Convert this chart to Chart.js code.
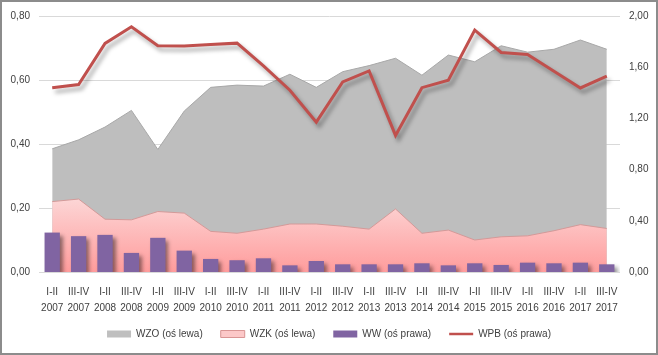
<!DOCTYPE html>
<html>
<head>
<meta charset="utf-8">
<script src="https://cdn.jsdelivr.net/npm/chart.js@4/dist/chart.umd.min.js"></script>
<style>
  html, body { margin: 0; padding: 0; background: #fff; }
  #wrap { position: relative; width: 658px; height: 355px; }
  #frame { position: absolute; left: 0; top: 0; width: 658px; height: 355px; box-sizing: border-box; border: 2px solid #8c8c8c; pointer-events: none; }
</style>
</head>
<body>
<div id="wrap">
  <canvas id="c" width="658" height="355"></canvas>
  <div id="frame"></div>
</div>
<script>
const periods = ['I-II','III-IV','I-II','III-IV','I-II','III-IV','I-II','III-IV','I-II','III-IV','I-II','III-IV','I-II','III-IV','I-II','III-IV','I-II','III-IV','I-II','III-IV','I-II','III-IV'];
const years = ['2007','2007','2008','2008','2009','2009','2010','2010','2011','2011','2012','2012','2013','2013','2014','2014','2015','2015','2016','2016','2017','2017'];
const seriesNames = ['WZO (oś lewa)','WZK (oś lewa)','WW (oś prawa)','WPB (oś prawa)'];
const wzo = [0.385,0.413,0.453,0.505,0.383,0.503,0.577,0.584,0.581,0.618,0.577,0.626,0.645,0.668,0.615,0.678,0.657,0.707,0.687,0.696,0.725,0.696];
const wzk = [0.220,0.228,0.165,0.163,0.189,0.184,0.127,0.121,0.134,0.150,0.150,0.143,0.134,0.197,0.121,0.131,0.100,0.110,0.113,0.129,0.148,0.136];
const ww  = [0.308,0.280,0.290,0.149,0.267,0.167,0.102,0.092,0.107,0.052,0.086,0.060,0.060,0.060,0.068,0.052,0.068,0.055,0.073,0.068,0.073,0.060];
const wpb = [1.440,1.464,1.786,1.916,1.767,1.765,1.778,1.788,1.610,1.420,1.171,1.485,1.571,1.067,1.440,1.498,1.890,1.715,1.700,1.569,1.438,1.530];
const leftTicks = [0, 0.8, 0.2];
const rightTicks = [0, 2.0, 0.4];

const labels = periods.map((p, i) => [p, years[i]]);
const fmt = v => Number(v).toFixed(2).replace('.', ',');
const FONT = { family: 'Liberation Sans', size: 10 };
const TXT = '#404040';

const shadowPlugin = {
  id: 'shadows',
  beforeDatasetDraw(chart, args) {
    const ds = chart.data.datasets[args.index];
    if (ds.shadow) {
      const ctx = chart.ctx;
      ctx.save();
      ctx.shadowColor = ds.shadow.color;
      ctx.shadowBlur = ds.shadow.blur;
      ctx.shadowOffsetX = ds.shadow.x;
      ctx.shadowOffsetY = ds.shadow.y;
    }
  },
  afterDatasetDraw(chart, args) {
    const ds = chart.data.datasets[args.index];
    if (ds.shadow) chart.ctx.restore();
  }
};

function pinkGradient(context) {
  const chart = context.chart;
  const area = chart.chartArea;
  if (!area) return '#ffbcbc';
  const y = chart.scales.y;
  const g = chart.ctx.createLinearGradient(0, y.getPixelForValue(0.23), 0, area.bottom);
  g.addColorStop(0, '#fcd6d6');
  g.addColorStop(1, '#ff9c9c');
  return g;
}

const legendFill = ['#bfbfbf', '#fcc8c8', '#8064a2', '#c0504d'];
const legendStroke = ['#bfbfbf', '#d99594', '#8064a2', '#c0504d'];

new Chart(document.getElementById('c'), {
  data: {
    labels: labels,
    datasets: [
      { type: 'line', label: seriesNames[0], data: wzo, yAxisID: 'y', order: 4,
        fill: 'origin', backgroundColor: '#bebebe', borderColor: '#a8a8a8', borderWidth: 1,
        pointRadius: 0, tension: 0 },
      { type: 'line', label: seriesNames[1], data: wzk, yAxisID: 'y', order: 3,
        fill: 'origin', backgroundColor: pinkGradient, borderColor: '#d39a99', borderWidth: 1,
        pointRadius: 0, tension: 0 },
      { type: 'bar', label: seriesNames[2], data: ww, yAxisID: 'y2', order: 2,
        backgroundColor: '#8064a2', borderWidth: 0, barPercentage: 0.58, categoryPercentage: 1,
        shadow: { color: 'rgba(0,0,0,0.45)', blur: 4, x: 3, y: 3 } },
      { type: 'line', label: seriesNames[3], data: wpb, yAxisID: 'y2', order: 1,
        fill: false, borderColor: '#c0504d', borderWidth: 3, pointRadius: 0, tension: 0,
        shadow: { color: 'rgba(0,0,0,0.35)', blur: 4, x: 3, y: 4 } }
    ]
  },
  options: {
    responsive: false,
    animation: false,
    layout: { padding: { top: 16, left: 0, right: 0, bottom: 6 } },
    plugins: {
      tooltip: { enabled: false },
      legend: {
        position: 'bottom',
        labels: {
          usePointStyle: true, pointStyleWidth: 24, boxHeight: 7, padding: 18,
          font: FONT, color: TXT,
          generateLabels(chart) {
            return chart.data.datasets.map((ds, i) => ({
              text: ds.label, fillStyle: legendFill[i], strokeStyle: legendStroke[i],
              lineWidth: i === 3 ? 2.5 : (i === 1 ? 1 : 0), pointStyle: i === 3 ? 'line' : 'rect',
              hidden: false, datasetIndex: i, fontColor: TXT
            }));
          }
        }
      }
    },
    scales: {
      x: {
        offset: true,
        grid: { display: false, drawTicks: false },
        border: { display: false },
        ticks: { autoSkip: false, maxRotation: 0, minRotation: 0, padding: 12, color: TXT,
                 font: { family: FONT.family, size: 10, lineHeight: 1.6 } },
        afterFit(s) { s.height = 39; }
      },
      y: {
        position: 'left', min: leftTicks[0], max: leftTicks[1],
        grid: { color: '#d9d9d9', drawTicks: false },
        border: { display: false },
        ticks: { stepSize: leftTicks[2], padding: 9, color: TXT, font: FONT, callback: fmt },
        afterFit(s) { s.width = 39; }
      },
      y2: {
        position: 'right', min: rightTicks[0], max: rightTicks[1],
        grid: { display: false, drawTicks: false },
        border: { display: false },
        ticks: { stepSize: rightTicks[2], padding: 9, color: TXT, font: FONT, callback: fmt },
        afterFit(s) { s.width = 38; }
      }
    }
  },
  plugins: [shadowPlugin]
});
</script>
</body>
</html>
